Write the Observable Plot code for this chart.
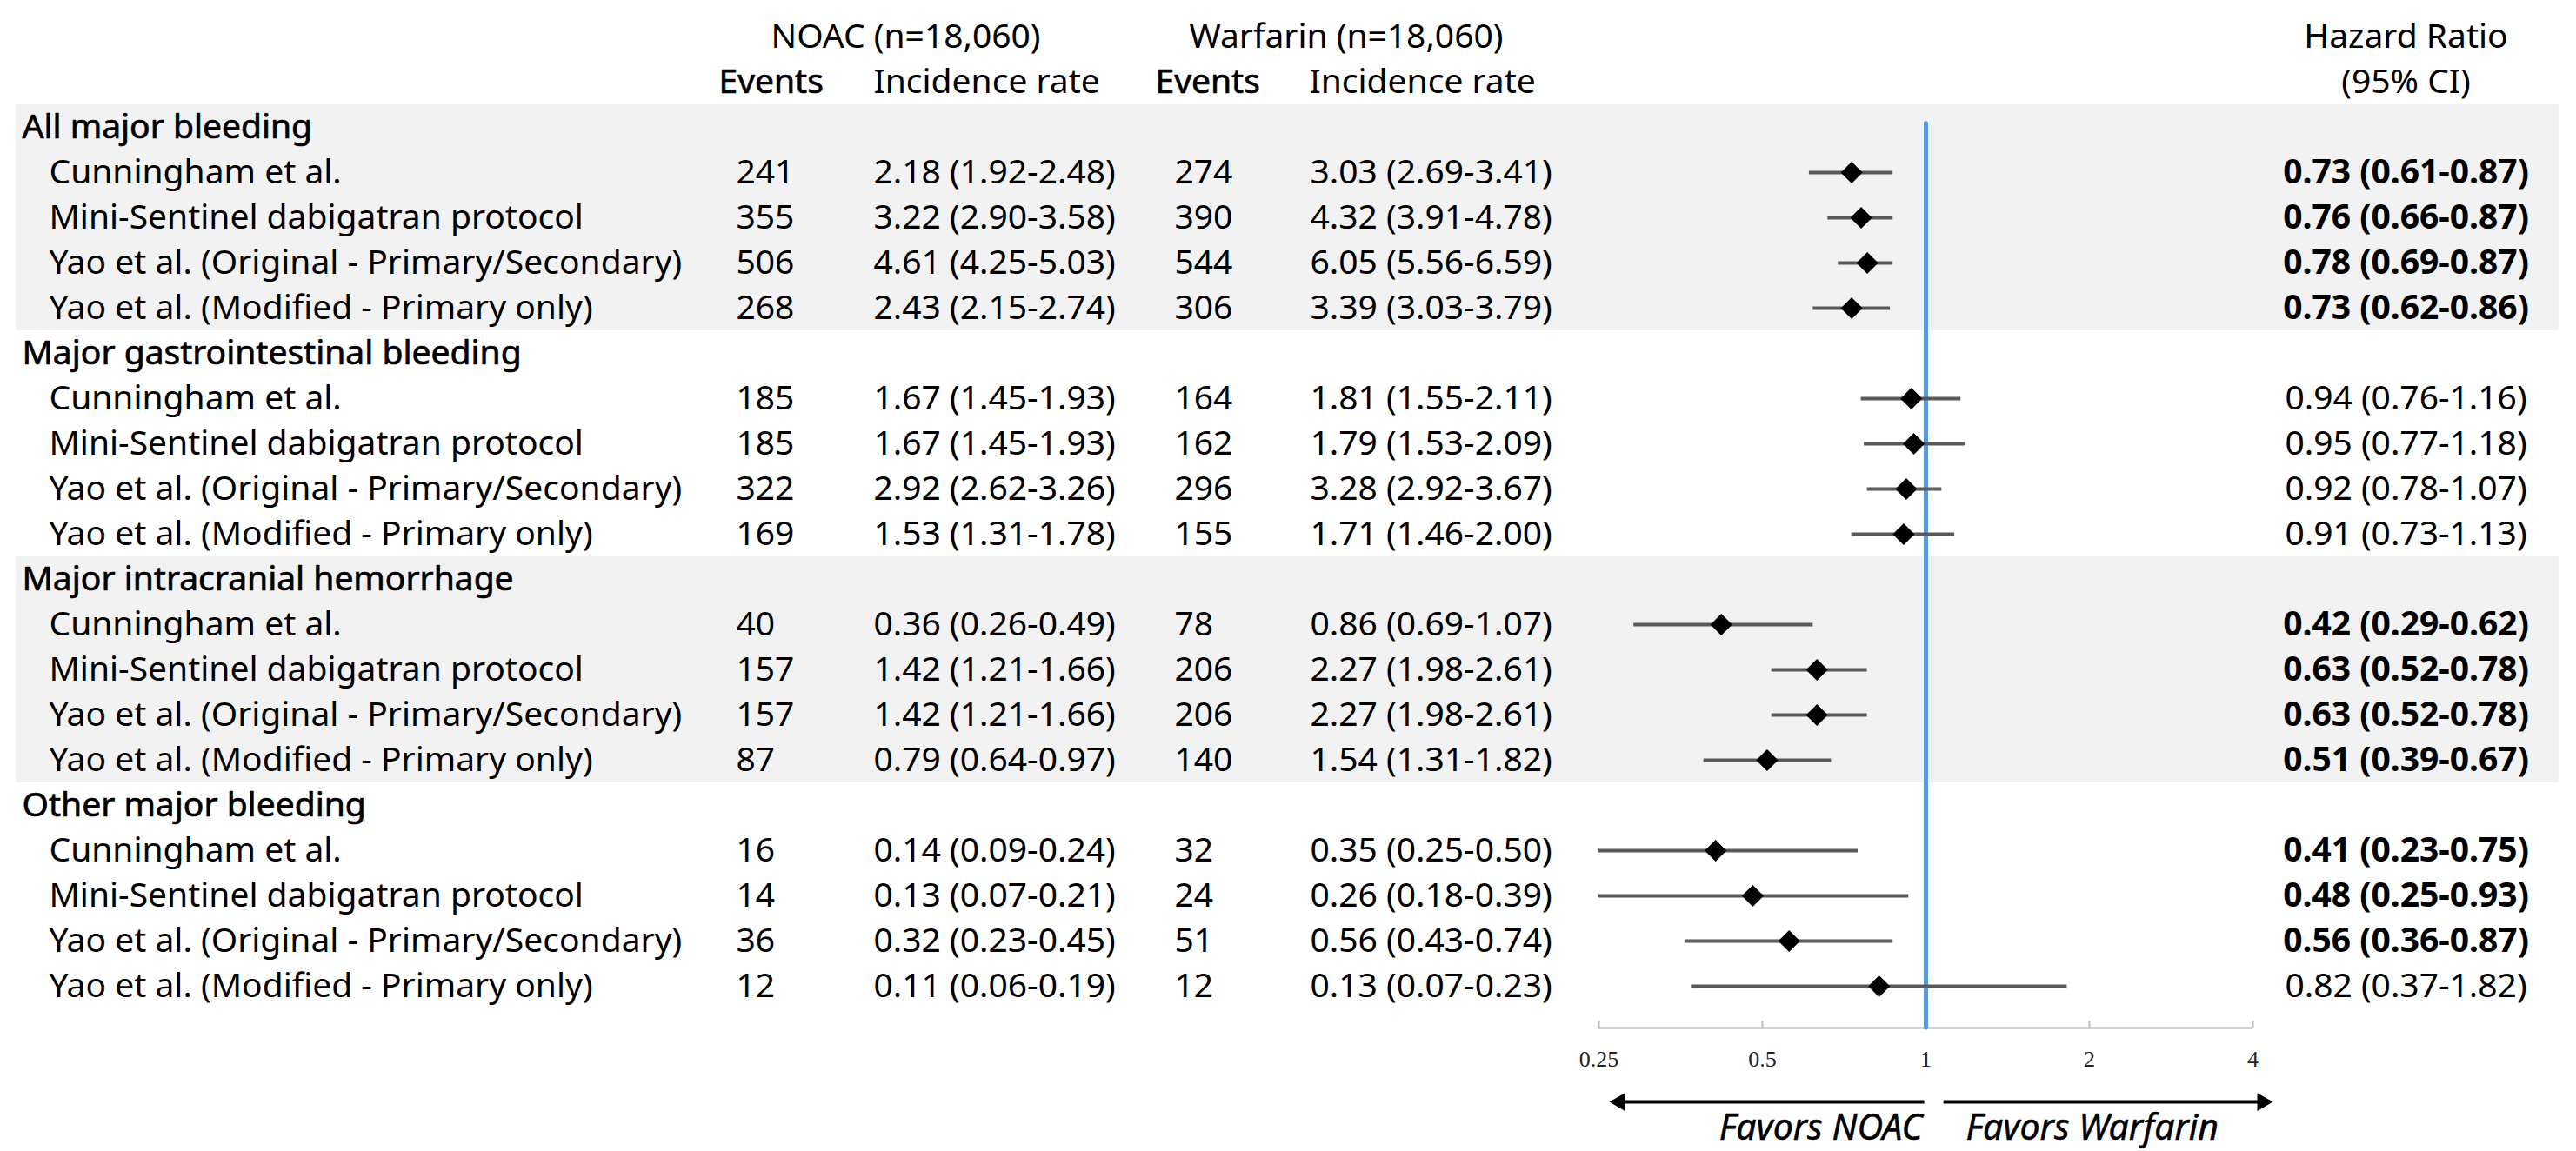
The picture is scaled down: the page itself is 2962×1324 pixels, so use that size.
<!DOCTYPE html>
<html>
<head>
<meta charset="utf-8">
<script src="https://cdn.jsdelivr.net/npm/d3@7"></script>
<script src="https://cdn.jsdelivr.net/npm/@observablehq/plot@0.6"></script>
<style>
html, body { margin: 0; padding: 0; background: #fff; overflow: hidden; }
</style>
</head>
<body>
<div id="chart"></div>
<script>
// ---------------- DATA ----------------
const groups = ["All major bleeding", "Major gastrointestinal bleeding", "Major intracranial hemorrhage", "Other major bleeding"];
const studies = ["Cunningham et al.", "Mini-Sentinel dabigatran protocol", "Yao et al. (Original - Primary/Secondary)", "Yao et al. (Modified - Primary only)"];
const noacEvents = [241, 355, 506, 268, 185, 185, 322, 169, 40, 157, 157, 87, 16, 14, 36, 12];
const noacRate   = [2.18, 3.22, 4.61, 2.43, 1.67, 1.67, 2.92, 1.53, 0.36, 1.42, 1.42, 0.79, 0.14, 0.13, 0.32, 0.11];
const noacRateLo = [1.92, 2.90, 4.25, 2.15, 1.45, 1.45, 2.62, 1.31, 0.26, 1.21, 1.21, 0.64, 0.09, 0.07, 0.23, 0.06];
const noacRateHi = [2.48, 3.58, 5.03, 2.74, 1.93, 1.93, 3.26, 1.78, 0.49, 1.66, 1.66, 0.97, 0.24, 0.21, 0.45, 0.19];
const warfEvents = [274, 390, 544, 306, 164, 162, 296, 155, 78, 206, 206, 140, 32, 24, 51, 12];
const warfRate   = [3.03, 4.32, 6.05, 3.39, 1.81, 1.79, 3.28, 1.71, 0.86, 2.27, 2.27, 1.54, 0.35, 0.26, 0.56, 0.13];
const warfRateLo = [2.69, 3.91, 5.56, 3.03, 1.55, 1.53, 2.92, 1.46, 0.69, 1.98, 1.98, 1.31, 0.25, 0.18, 0.43, 0.07];
const warfRateHi = [3.41, 4.78, 6.59, 3.79, 2.11, 2.09, 3.67, 2.00, 1.07, 2.61, 2.61, 1.82, 0.50, 0.39, 0.74, 0.23];
const hazard     = [0.73, 0.76, 0.78, 0.73, 0.94, 0.95, 0.92, 0.91, 0.42, 0.63, 0.63, 0.51, 0.41, 0.48, 0.56, 0.82];
const hazardLo   = [0.61, 0.66, 0.69, 0.62, 0.76, 0.77, 0.78, 0.73, 0.29, 0.52, 0.52, 0.39, 0.23, 0.25, 0.36, 0.37];
const hazardHi   = [0.87, 0.87, 0.87, 0.86, 1.16, 1.18, 1.07, 1.13, 0.62, 0.78, 0.78, 0.67, 0.75, 0.93, 0.87, 1.82];
const axisTicks  = [0.25, 0.5, 1, 2, 4];
const headerTop  = ["NOAC (n=18,060)", "Warfarin (n=18,060)", "Hazard Ratio"];
const headerSub  = ["Events", "Incidence rate", "Events", "Incidence rate", "(95% CI)"];
const favorLabels = ["Favors NOAC", "Favors Warfarin"];

// ---------------- LAYOUT ----------------
const W = 2962, H = 1324, ML = 18, MR = 20;
const FONT = "'Noto Sans', 'Open Sans', sans-serif";
const FS = 39;
const col = {group: 25, study: 56, nEv: 846, nIr: 1004, wEv: 1350, wIr: 1506, hr: 2766,
             hNoac: 886, hWarf: 1367, hEvN: 826, hIrN: 1004, hEvW: 1328, hIrW: 1505};
const xMin = 0.25, xMax = 4;
const axisRow = 19.923, tickTopRow = 19.77, tickLabelRow = 20.62, arrowRow = 21.56, favorRow = 22.4;
const arrows = [{from: 0.993, to: 0.2613, dir: -1}, {from: 1.077, to: 4.354, dir: 1}];
const semi = {stroke: "black", strokeWidth: 0.7};   // emulate semibold weight

const f2 = v => v.toFixed(2);
const rows = hazard.map((h, i) => ({
  row: Math.floor(i / 4) * 5 + (i % 4) + 1,
  study: studies[i % 4],
  nEv: String(noacEvents[i]),
  nIr: `${f2(noacRate[i])} (${f2(noacRateLo[i])}-${f2(noacRateHi[i])})`,
  wEv: String(warfEvents[i]),
  wIr: `${f2(warfRate[i])} (${f2(warfRateLo[i])}-${f2(warfRateHi[i])})`,
  hr: h, lo: hazardLo[i], hi: hazardHi[i],
  hrText: `${f2(h)} (${f2(hazardLo[i])}-${f2(hazardHi[i])})`,
  sig: hazardHi[i] < 1 || hazardLo[i] > 1
}));
const groupRows = groups.map((g, k) => ({label: g, row: k * 5}));
const bands = groupRows.filter((g, k) => k % 2 === 0);

const txt = (data, text, x, opts = {}) => Plot.text(data, {
  frameAnchor: "left", dx: x - ML, text, fontSize: FS, fill: "black",
  lineAnchor: "middle", textAnchor: "start", ...opts
});

const chart = Plot.plot({
  width: W, height: H,
  marginLeft: ML, marginRight: MR, marginTop: 0, marginBottom: 0,
  x: {type: "log", domain: [xMin, xMax], range: [1838, 2590], axis: null},
  y: {type: "linear", domain: [0, 19], range: [146, 1134], axis: null},
  style: {fontFamily: FONT, background: "white", color: "black"},
  marks: [
    // shaded groups
    Plot.rect(bands, {y1: d => d.row - 0.5, y2: d => d.row + 4.5, fill: "#f2f2f2"}),
    // axis
    Plot.ruleY([axisRow], {x1: xMin, x2: xMax, stroke: "#bfbfbf", strokeWidth: 2.5}),
    Plot.ruleX(axisTicks, {x: d => d, y1: tickTopRow, y2: axisRow, stroke: "#bfbfbf", strokeWidth: 2}),
    Plot.text(axisTicks, {x: d => d, y: tickLabelRow, text: d => String(d), fontFamily: "'Liberation Serif', serif", fontSize: 26, fill: "#222"}),
    // reference line
    Plot.ruleX([1], {y1: -0.08, y2: axisRow, stroke: "#5b9bd5", strokeWidth: 5, strokeLinecap: "round"}),
    // CIs and estimates
    Plot.ruleY(rows, {y: "row", x1: d => Math.max(d.lo, xMin), x2: d => Math.min(d.hi, xMax), stroke: "#595959", strokeWidth: 4}),
    Plot.dot(rows, {x: "hr", y: "row", symbol: "diamond2", r: 11.3, fill: "black", stroke: "none"}),
    // favors arrows
    Plot.link(arrows, {x1: "from", x2: d => d.to * Math.pow(2, -d.dir * 6 / 188), y1: arrowRow, y2: arrowRow, stroke: "black", strokeWidth: 4}),
    Plot.dot(arrows.filter(a => a.dir < 0), {x: "to", y: arrowRow, dx: 12, symbol: "triangle", r: 7.7, fill: "black", stroke: "none", rotate: -90}),
    Plot.dot(arrows.filter(a => a.dir > 0), {x: "to", y: arrowRow, dx: -12, symbol: "triangle", r: 7.7, fill: "black", stroke: "none", rotate: 90}),
    Plot.text([favorLabels[0]], {x: 1, y: favorRow, dx: -4, text: d => d, textAnchor: "end", lineAnchor: "bottom", fontSize: 41, fontStyle: "italic", fill: "black", stroke: "black", strokeWidth: 0.5}),
    Plot.text([favorLabels[1]], {x: 1, y: favorRow, dx: 46, text: d => d, textAnchor: "start", lineAnchor: "bottom", fontSize: 41, fontStyle: "italic", fill: "black", stroke: "black", strokeWidth: 0.5}),
    // headers
    txt([headerTop[0]], d => d, col.hNoac, {y: -2}),
    txt([headerTop[1]], d => d, col.hWarf, {y: -2}),
    txt([headerTop[2]], d => d, col.hr, {y: -2, textAnchor: "middle"}),
    txt([headerSub[0]], d => d, col.hEvN, {y: -1, ...semi}),
    txt([headerSub[1]], d => d, col.hIrN, {y: -1}),
    txt([headerSub[2]], d => d, col.hEvW, {y: -1, ...semi}),
    txt([headerSub[3]], d => d, col.hIrW, {y: -1}),
    txt([headerSub[4]], d => d, col.hr, {y: -1, textAnchor: "middle"}),
    // table body
    txt(groupRows, "label", col.group, {y: "row", ...semi}),
    txt(rows, "study", col.study, {y: "row"}),
    txt(rows, "nEv", col.nEv, {y: "row"}),
    txt(rows, "nIr", col.nIr, {y: "row"}),
    txt(rows, "wEv", col.wEv, {y: "row"}),
    txt(rows, "wIr", col.wIr, {y: "row"}),
    txt(rows.filter(d => d.sig), "hrText", col.hr, {y: "row", textAnchor: "middle", fontWeight: 700}),
    txt(rows.filter(d => !d.sig), "hrText", col.hr, {y: "row", textAnchor: "middle"})
  ]
});
document.getElementById("chart").appendChild(chart);
</script>
</body>
</html>
